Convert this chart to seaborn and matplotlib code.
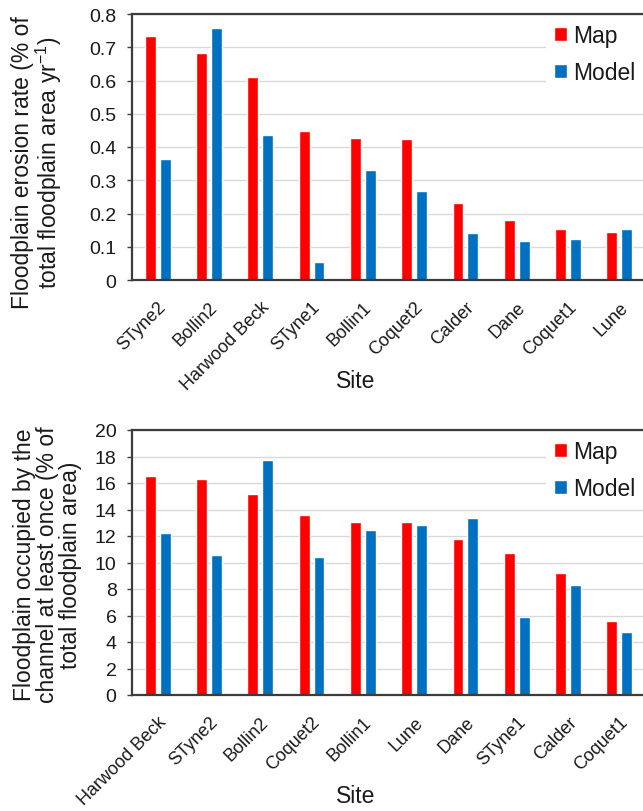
import numpy as np
import pandas as pd
import matplotlib
matplotlib.use("Agg")
import matplotlib.pyplot as plt
from matplotlib.ticker import FuncFormatter
import seaborn as sns

# Floodplain erosion rate (% of total floodplain area per year), sites ranked by mapped rate
erosion_sites = ["STyne2", "Bollin2", "Harwood Beck", "STyne1", "Bollin1",
                 "Coquet2", "Calder", "Dane", "Coquet1", "Lune"]
erosion_map = [0.734, 0.684, 0.611, 0.448, 0.428, 0.423, 0.233, 0.180, 0.152, 0.143]
erosion_model = [0.363, 0.759, 0.437, 0.054, 0.332, 0.269, 0.140, 0.118, 0.124, 0.152]
erosion_ticks = [0, 0.1, 0.2, 0.3, 0.4, 0.5, 0.6, 0.7, 0.8]

# Floodplain occupied by the channel at least once (% of total floodplain area)
occupied_sites = ["Harwood Beck", "STyne2", "Bollin2", "Coquet2", "Bollin1",
                  "Lune", "Dane", "STyne1", "Calder", "Coquet1"]
occupied_map = [16.53, 16.33, 15.18, 13.59, 13.02, 13.02, 11.76, 10.68, 9.20, 5.60]
occupied_model = [12.26, 10.60, 17.76, 10.40, 12.46, 12.84, 13.34, 5.90, 8.32, 4.77]
occupied_ticks = [0, 2, 4, 6, 8, 10, 12, 14, 16, 18, 20]

series_names = ["Map", "Model"]
series_colors = ["#FF0000", "#0070C0"]

erosion_ylabel = "Floodplain erosion rate (% of\ntotal floodplain area yr$^{-1}$)"
occupied_ylabel = "Floodplain occupied by the\nchannel at least once (% of\ntotal floodplain area)"
xlabel = "Site"


def long_form(sites, map_vals, model_vals):
    return pd.DataFrame({
        "Site": sites * 2,
        "Source": [series_names[0]] * len(sites) + [series_names[1]] * len(sites),
        "Value": list(map_vals) + list(model_vals),
    })


sns.set_theme(style="white")
plt.rcParams["font.family"] = ["Liberation Sans", "DejaVu Sans"]
plt.rcParams["mathtext.fontset"] = "custom"
plt.rcParams["mathtext.rm"] = "Liberation Sans"
plt.rcParams["mathtext.it"] = "Liberation Sans:italic"
plt.rcParams["mathtext.bf"] = "Liberation Sans:bold"

TEXT = "#1a1a1a"
SPINE = "#3c3c3c"

W, H = 643, 812
fig = plt.figure(figsize=(W / 100, H / 100), dpi=100)

AX_LEFT, AX_RIGHT = 132, 645


def make_axes(top_px, bottom_px):
    return fig.add_axes([AX_LEFT / W, 1 - bottom_px / H,
                         (AX_RIGHT - AX_LEFT) / W, (bottom_px - top_px) / H])


def draw_panel(ax, sites, map_vals, model_vals, ticks, ylabel, ylabel_xy, top_px, bottom_px):
    df = long_form(sites, map_vals, model_vals)
    sns.barplot(data=df, x="Site", y="Value", hue="Source", order=sites,
                hue_order=series_names, palette=series_colors, saturation=1,
                width=0.58, gap=0.27, errorbar=None, ax=ax)
    ax.set_ylim(ticks[0], ticks[-1])
    ax.set_yticks(ticks)
    ax.yaxis.set_major_formatter(FuncFormatter(lambda v, p: f"{v:g}"))
    ax.set_xlim(-0.5, len(sites) - 0.5)

    ax.set_axisbelow(True)
    ax.yaxis.grid(True, color="#D9D9D9", linewidth=1.0)
    ax.xaxis.grid(False)

    for side in ("top", "left", "bottom"):
        ax.spines[side].set_visible(True)
        ax.spines[side].set_color(SPINE)
        ax.spines[side].set_linewidth(1.6)
        ax.spines[side].set_zorder(6)
    ax.spines["right"].set_visible(False)

    ax.tick_params(axis="y", which="major", direction="out", length=3.6, width=1.0,
                   color=SPINE, pad=7.5, labelsize=14, labelcolor=TEXT, left=True)
    ax.tick_params(axis="x", which="major", length=0, pad=13, labelsize=13,
                   labelcolor=TEXT, bottom=False)
    for lab in ax.get_xticklabels():
        lab.set_rotation(45)
        lab.set_ha("right")
        lab.set_va("top")
        lab.set_rotation_mode("anchor")

    h_px = bottom_px - top_px
    ax.set_ylabel(ylabel, fontsize=16.5, color=TEXT, linespacing=1.0,
                  ha="center", va="center", multialignment="center")
    ax.yaxis.set_label_coords(*ylabel_xy)
    ax.set_xlabel(xlabel, fontsize=16.5, color=TEXT, va="center")
    ax.xaxis.set_label_coords((356 - AX_LEFT) / (AX_RIGHT - AX_LEFT), -101 / h_px)

    handles, labels = ax.get_legend_handles_labels()
    ax.legend(handles, labels, loc="upper left",
              bbox_to_anchor=((546 - AX_LEFT) / (AX_RIGHT - AX_LEFT), 1 - 2 / h_px),
              frameon=True, facecolor="white", edgecolor="none", framealpha=1,
              fancybox=False, fontsize=16.5, handlelength=0.57, handleheight=0.57,
              handletextpad=0.25, labelspacing=0.62, borderpad=0.35, borderaxespad=0,
              labelcolor=TEXT)


ax_top = make_axes(15, 281)
draw_panel(ax_top, erosion_sites, erosion_map, erosion_model, erosion_ticks,
           erosion_ylabel, ((37.5 - AX_LEFT) / (AX_RIGHT - AX_LEFT), 0.444), 15, 281)

ax_bot = make_axes(431, 696)
draw_panel(ax_bot, occupied_sites, occupied_map, occupied_model, occupied_ticks,
           occupied_ylabel, ((48 - AX_LEFT) / (AX_RIGHT - AX_LEFT), 0.494), 431, 696)

fig.savefig("out.png", dpi=100, facecolor="white")
